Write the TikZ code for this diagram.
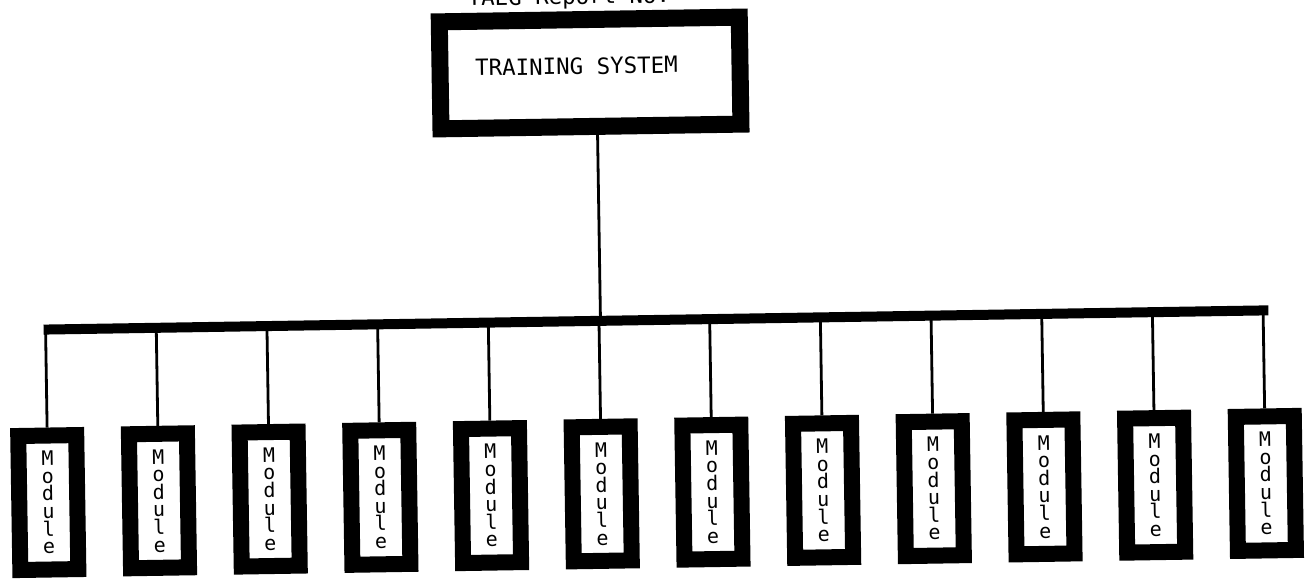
\documentclass[tikz,border=0pt]{standalone}
\usepackage{fontspec}
\setmonofont{DejaVu Sans Mono}
\usepackage{tikz}
\usetikzlibrary{calc}

\newcommand\modfont{\ttfamily\fontsize{10}{8.8}\selectfont\lineskiplimit=-20pt}
\newcommand\sysfont{\ttfamily\fontsize{11.2}{12}\selectfont}

\begin{document}
\begin{tikzpicture}[x=0.5pt, y=-0.5pt,
    sysbox/.style={draw, line width=8.5pt, minimum width=150pt, minimum height=53.5pt, inner sep=0pt, transform shape},
    modbox/.style={draw, line width=8pt, minimum width=29pt, minimum height=67pt, inner sep=0pt, align=center, font=\modfont, transform shape},
    bus/.style={line width=5pt},
    drop/.style={line width=1.4pt}]
  \useasboundingbox (0,0) rectangle (1309,578);
  \begin{scope}[rotate around={0.9:(654,289)}]
  % heading, cut by the page edge
  \node[font=\sysfont, anchor=base west, inner sep=0pt, transform shape] (rep) at (472,3) {TAEG Report No.};
  \node[sysbox] (tsys) at (593.5,72) {};
  \node[font=\sysfont, inner sep=0pt, transform shape] (tsyslbl) at (580,65) {TRAINING SYSTEM};
  \coordinate (busL) at (43,320);
  \coordinate (busR) at (1268,320);
  \coordinate (hub) at (600,320);
  \draw[bus] (busL) -- (busR);
  \draw[drop] (tsys.south -| hub) -- (hub);
  \foreach \i in {1,...,12} {
    \node[modbox] (m\i) at ({45+110.7*(\i-1)},493) {M\\o\\d\\u\\l\\e};
    \draw[drop] (m\i.north) -- ($(busL)!(m\i.north)!(busR)$);
  }
  \end{scope}
\end{tikzpicture}
\end{document}
